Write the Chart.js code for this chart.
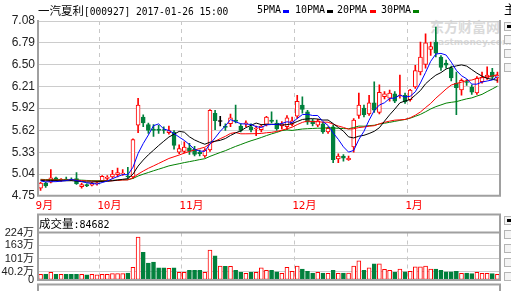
<!DOCTYPE html>
<html>
<head>
<meta charset="utf-8">
<script src="https://cdn.jsdelivr.net/npm/chart.js@4.4.0/dist/chart.umd.min.js"></script>
<style>
html,body{margin:0;padding:0;background:#fff;overflow:hidden;}
#wrap{position:relative;width:511px;height:291px;overflow:hidden;}
canvas{position:absolute;left:0;}
.t{position:absolute;white-space:nowrap;font-family:"DejaVu Sans Mono","Noto Sans CJK SC",monospace;color:#000;line-height:14px;}
.cjk{font-family:"Noto Sans CJK SC";}
.dash{position:absolute;width:6px;height:3px;}
.btn{position:absolute;left:504px;width:12px;height:7px;border:1px solid #b4b4b4;background:#f4f4f4;}
.btn i{position:absolute;left:2px;top:2px;width:4px;height:3px;background:#000;}
</style>
</head>
<body>
<div id="wrap">
  <div class="t" style="left:430px;top:19px;font-size:14px;font-weight:bold;color:#dadada;font-family:'Noto Sans CJK SC'">东方财富网</div>
  <div class="t" style="left:432px;top:35px;font-size:9px;font-weight:bold;color:#dadada;font-family:'DejaVu Sans'">eastmoney.com</div>

  <canvas id="priceChart" width="511" height="213" style="top:0"></canvas>
  <canvas id="volChart" width="511" height="78" style="top:213px"></canvas>

  <div class="t" style="left:38px;top:2.5px;font-size:9.6px"><span class="cjk" style="font-size:11.5px">一汽夏利</span>[000927] 2017-01-26 15:00</div>
  <div class="t" style="left:257px;top:2.5px;font-size:10px">5PMA</div>
  <div class="dash" style="left:283px;top:10px;background:#0000ff"></div>
  <div class="t" style="left:295px;top:2.5px;font-size:10px">10PMA</div>
  <div class="dash" style="left:327px;top:10px;background:#000000"></div>
  <div class="t" style="left:337px;top:2.5px;font-size:10px">20PMA</div>
  <div class="dash" style="left:370px;top:10px;background:#ff0000"></div>
  <div class="t" style="left:381px;top:2.5px;font-size:10px">30PMA</div>
  <div class="dash" style="left:413px;top:10px;background:#008000"></div>

  <div class="t" style="left:39px;top:216px;font-size:10px"><span class="cjk" style="font-size:11.5px">成交量</span>:84682</div>

  <div class="t cjk" style="left:504px;top:2px;font-size:12px">主</div>
  <div class="btn" style="top:22px"><i></i></div>
  <div class="btn" style="top:35px"></div>
  <div class="btn" style="top:49px"></div>
  <div class="btn" style="top:63px"></div>
  <div class="btn" style="top:216px"><i></i></div>
  <div class="btn" style="top:230px"></div>
  <div class="btn" style="top:244px"></div>
  <div class="btn" style="top:258px"></div>
  <div class="btn" style="top:272px"></div>
</div>

<script>
const dates = [
  '2016-09-13','2016-09-14','2016-09-19','2016-09-20','2016-09-21','2016-09-22','2016-09-23','2016-09-26','2016-09-27','2016-09-28','2016-09-29','2016-09-30',
  '2016-10-10','2016-10-11','2016-10-12','2016-10-13','2016-10-14','2016-10-17','2016-10-18','2016-10-19','2016-10-20','2016-10-21','2016-10-24','2016-10-25','2016-10-26','2016-10-27','2016-10-28','2016-10-31',
  '2016-11-01','2016-11-02','2016-11-03','2016-11-04','2016-11-07','2016-11-08','2016-11-09','2016-11-10','2016-11-11','2016-11-14','2016-11-15','2016-11-16','2016-11-17','2016-11-18','2016-11-21','2016-11-22','2016-11-23','2016-11-24','2016-11-25','2016-11-28','2016-11-29','2016-11-30',
  '2016-12-01','2016-12-02','2016-12-05','2016-12-06','2016-12-07','2016-12-08','2016-12-09','2016-12-12','2016-12-13','2016-12-14','2016-12-15','2016-12-16','2016-12-19','2016-12-20','2016-12-21','2016-12-22','2016-12-23','2016-12-26','2016-12-27','2016-12-28','2016-12-29','2016-12-30',
  '2017-01-03','2017-01-04','2017-01-05','2017-01-06','2017-01-09','2017-01-10','2017-01-11','2017-01-12','2017-01-13','2017-01-16','2017-01-17','2017-01-18','2017-01-19','2017-01-20','2017-01-23','2017-01-24','2017-01-25','2017-01-26'
];

// closes before the first visible day, only used to seed the moving averages
const earlierCloses = [4.98,4.99,5.01,4.99,4.97,4.96,4.98,4.99,5.00,4.97,4.95,4.96,4.98,4.97,4.96,
                       4.95,4.97,4.98,4.99,4.97,4.96,4.95,4.97,4.98,4.96,4.95,4.97,4.96,4.94];

const opens = [
  4.85,4.92,4.93,4.99,4.96,4.97,4.97,4.98,4.87,4.90, 4.89,4.91,4.95,4.98,5.00,5.03,5.04,5.01,5.00,5.69,
  5.80,5.70,5.64,5.64,5.63,5.59,5.60,5.33,5.34,5.39, 5.37,5.33,5.28,5.36,5.85,5.74,5.68,5.71,5.76,5.68,
  5.71,5.67,5.64,5.63,5.70,5.76,5.72,5.68,5.67,5.70, 5.81,5.96,5.87,5.75,5.69,5.71,5.60,5.67,5.24,5.28,
  5.23,5.40,5.82,5.92,5.84,5.99,5.86,6.07,6.05,6.11, 6.08,6.09,6.03,6.20,6.40,6.50,6.70,6.80,6.60,6.52,
  6.45,6.25,6.16,6.27,6.20,6.12,6.27,6.32,6.40,6.32
];
const highs = [
  4.93,4.93,5.10,5.00,4.98,5.00,4.99,5.06,4.92,4.91, 4.93,4.93,5.02,5.02,5.09,5.12,5.10,5.13,5.51,6.05,
  5.83,5.72,5.70,5.69,5.67,5.68,5.62,5.43,5.47,5.45, 5.41,5.36,5.38,5.90,5.89,5.81,5.71,5.84,5.96,5.71,
  5.75,5.71,5.68,5.70,5.81,5.87,5.76,5.74,5.82,5.80, 6.09,6.07,5.89,5.77,5.77,5.73,5.67,5.69,5.31,5.30,
  5.28,5.78,6.12,5.96,6.09,6.27,6.23,6.14,6.16,6.14, 6.36,6.12,6.17,6.49,6.80,6.91,6.80,7.00,6.62,6.56,
  6.48,6.40,6.31,6.30,6.23,6.34,6.40,6.47,6.45,6.40
];
const lows = [
  4.82,4.86,4.92,4.95,4.94,4.95,4.95,4.90,4.85,4.87, 4.88,4.89,4.94,4.96,4.98,5.00,5.02,4.98,4.98,5.59,
  5.67,5.58,5.54,5.58,5.58,5.57,5.37,5.31,5.32,5.30, 5.28,5.28,5.26,5.34,5.63,5.68,5.62,5.67,5.72,5.60,
  5.67,5.60,5.55,5.60,5.68,5.72,5.62,5.64,5.63,5.68, 5.78,5.85,5.70,5.68,5.67,5.58,5.58,5.19,5.19,5.21,
  5.22,5.33,5.78,5.80,5.82,5.86,5.84,6.04,6.01,5.99, 6.05,5.98,6.01,6.18,6.36,6.45,6.62,6.60,6.42,6.45,
  6.28,5.83,6.09,6.22,6.10,6.10,6.25,6.30,6.30,6.26
];
const closes = [
  4.92,4.88,4.99,4.96,4.97,4.96,4.96,4.91,4.90,4.88, 4.92,4.92,5.01,5.00,5.04,5.06,5.05,5.00,5.50,5.96,
  5.72,5.62,5.62,5.62,5.62,5.62,5.42,5.38,5.40,5.34, 5.30,5.31,5.36,5.89,5.75,5.74,5.66,5.79,5.74,5.62,
  5.72,5.63,5.65,5.68,5.80,5.74,5.64,5.71,5.79,5.75, 6.01,5.90,5.73,5.71,5.75,5.60,5.65,5.23,5.28,5.25,
  5.25,5.76,5.96,5.83,5.99,5.89,6.13,6.11,6.12,6.01, 6.09,6.00,6.16,6.42,6.60,6.79,6.74,6.65,6.46,6.49,
  6.32,6.19,6.29,6.26,6.13,6.32,6.33,6.36,6.33,6.36
];
// volume, in 万
const volumes = [
  27,27,36,27,27,27,27,27,27,24, 27,24,27,27,30,30,30,33,60,202,
  131,80,84,57,57,55,57,36,36,46, 46,46,36,141,114,66,64,64,46,36,
  32,36,36,57,46,46,38,32,60,41, 66,52,41,33,36,33,32,46,32,33,
  33,66,90,46,57,76,76,50,46,36, 52,38,41,62,62,66,52,52,46,38,
  38,41,32,33,30,36,32,32,30,27
];

const priceTicks = [4.75,5.04,5.33,5.62,5.92,6.21,6.50,6.79,7.08];
const volTicks = [0,40.2,101,163,224];
const maPeriods = [5,10,20,30];
const maColors = ['#0000ff','#000000','#ff0000','#008000'];

const RED = '#ff0000', GREEN = '#00803c', BLACK = '#000000';
const GRID = '#cccccc', FRAME = '#a0a0a0';
const colors = closes.map((c,i)=> c>opens[i] ? RED : (c<opens[i] ? GREEN : BLACK));

function movingAvg(n){
    const all = earlierCloses.concat(closes);
    const off = earlierCloses.length;
    return closes.map((_,i)=>{
        let s = 0;
        for(let k=0;k<n;k++) s += all[off+i-k];
        return Math.round(s/n*1000)/1000;
    });
}
function monthLabel(i){
    if(i<0 || i>=dates.length) return '';
    const m = dates[i].slice(5,7);
    if(i===0 || dates[i-1].slice(5,7)!==m) return parseInt(m,10)+'月';
    return '';
}
const monthGrid = c => (c.index>0 && monthLabel(c.index)) ? '#c8c8c8' : 'rgba(0,0,0,0)';

const priceFrame = {
    id:'priceFrame',
    afterDraw(chart){
        const {ctx, chartArea:a} = chart;
        ctx.save();
        ctx.strokeStyle = FRAME; ctx.lineWidth = 2;
        ctx.beginPath();
        ctx.moveTo(a.left, a.top-1); ctx.lineTo(a.left, a.bottom);
        ctx.lineTo(a.right, a.bottom); ctx.lineTo(a.right, a.top-1);
        ctx.stroke();
        ctx.restore();
    }
};
const volFrame = {
    id:'volFrame',
    afterDraw(chart){
        const {ctx, chartArea:a} = chart;
        ctx.save();
        ctx.strokeStyle = FRAME; ctx.lineWidth = 2;
        ctx.strokeRect(a.left, 1.5, a.right-a.left, a.bottom-1.5);
        ctx.beginPath(); ctx.moveTo(a.left, a.top); ctx.lineTo(a.right, a.top); ctx.stroke();
        // top of the next panel
        ctx.beginPath();
        ctx.moveTo(a.left, 80); ctx.lineTo(a.left, 71.5); ctx.lineTo(a.right, 71.5); ctx.lineTo(a.right, 80);
        ctx.stroke();
        ctx.restore();
    }
};

const labelFont = {family:"'Liberation Sans', Arial, sans-serif", size:12};
const cjkFont = {family:"'DejaVu Sans Mono','Noto Sans CJK SC',monospace", size:11};
const volFont = {family:"'Liberation Sans','Noto Sans CJK SC',sans-serif", size:11};

new Chart(document.getElementById('priceChart'), {
    type:'bar',
    data:{
        labels: dates,
        datasets: [
            ...maPeriods.map((n,k)=>({
                type:'line', label:n+'PMA', data:movingAvg(n),
                borderColor:maColors[k], borderWidth:1, pointRadius:0, tension:0, order:0
            })),
            {
                label:'body', data: opens.map((o,i)=>[o, closes[i]]),
                backgroundColor: colors.map(c=> c===RED ? '#ffffff' : c),
                borderColor: colors, borderWidth:1, borderSkipped:false,
                barThickness:4, minBarLength:1, grouped:false, order:1
            },
            {
                label:'wick', data: lows.map((l,i)=>[l, highs[i]]),
                backgroundColor: colors, borderWidth:0,
                barThickness:1, grouped:false, order:2
            }
        ]
    },
    options:{
        responsive:false,
        animation:false,
        layout:{ padding:{top:21, right:11, bottom:0, left:0} },
        plugins:{ legend:{display:false}, tooltip:{enabled:false} },
        scales:{
            x:{
                afterFit(s){ s.height = 17.25; },
                grid:{ offset:true, drawTicks:false, color:monthGrid },
                border:{ display:false, dash:[4,4] },
                ticks:{ autoSkip:false, maxRotation:0, align:'start', labelOffset:-5, padding:4,
                        color:RED, font:cjkFont, callback:(v,i)=>monthLabel(i) }
            },
            y:{
                min:4.75, max:7.08,
                afterFit(s){ s.width = 38; },
                afterBuildTicks(s){ s.ticks = priceTicks.map(v=>({value:v})); },
                grid:{ drawTicks:false, color:GRID },
                border:{ display:false },
                ticks:{ autoSkip:false, padding:3, color:'#222', font:labelFont, callback:v=>Number(v).toFixed(2) }
            }
        }
    },
    plugins:[priceFrame]
});

new Chart(document.getElementById('volChart'), {
    type:'bar',
    data:{
        labels: dates,
        datasets: [{
            label:'成交量', data: volumes,
            backgroundColor: colors.map(c=> c===GREEN ? GREEN : '#ffffff'),
            borderColor: colors.map(c=> c===GREEN ? GREEN : RED),
            borderWidth:1, borderSkipped:false, barThickness:4
        }]
    },
    options:{
        responsive:false,
        animation:false,
        layout:{ padding:{top:19.5, right:11, bottom:11, left:0} },
        plugins:{ legend:{display:false}, tooltip:{enabled:false} },
        scales:{
            x:{
                afterFit(s){ s.height = 0; },
                grid:{ offset:true, drawTicks:false, color:monthGrid },
                border:{ display:false, dash:[4,4] },
                ticks:{ display:false, autoSkip:false }
            },
            y:{
                min:0, max:224,
                afterFit(s){ s.width = 38; },
                afterBuildTicks(s){ s.ticks = volTicks.map(v=>({value:v})); },
                grid:{ drawTicks:false, color:c=> (c.tick && c.tick.value>0 && c.tick.value<224) ? GRID : 'rgba(0,0,0,0)' },
                border:{ display:false },
                ticks:{ autoSkip:false, padding:4, color:'#222', font:volFont, callback:v=> v===0 ? '0' : v+'万' }
            }
        }
    },
    plugins:[volFrame]
});
</script>
</body>
</html>
